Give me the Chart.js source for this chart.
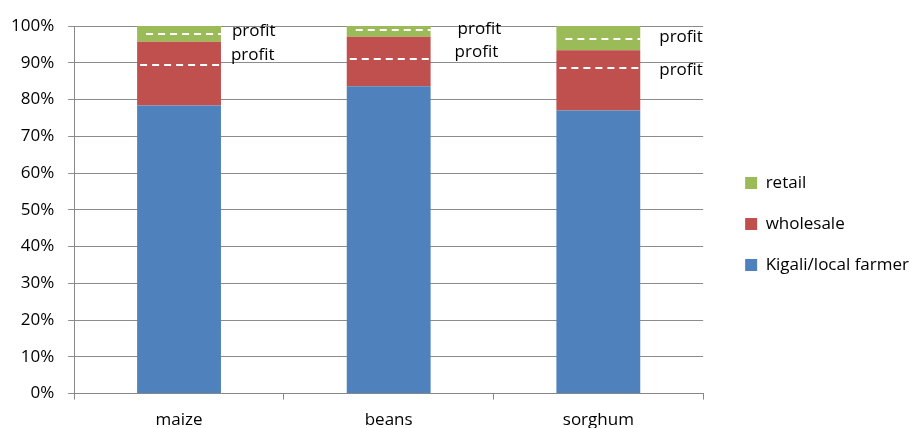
<!DOCTYPE html>
<html>
<head>
<meta charset="utf-8">
<script src="https://cdn.jsdelivr.net/npm/chart.js@4.4.1/dist/chart.umd.min.js"></script>
<style>
  html, body { margin: 0; padding: 0; background: #fff; }
  #wrap { width: 920px; height: 428px; position: relative; }
</style>
</head>
<body>
<div id="wrap"><canvas id="priceChart"></canvas></div>
<script>
// DADOS
const categories = ['maize', 'beans', 'sorghum'];
const farmerShare = [78.4, 83.6, 77.0];
const wholesaleShare = [17.3, 13.5, 16.4];
const retailShare = [4.3, 2.9, 6.6];
// dashed "profit" levels (in % of price)
const wholesaleProfitLevel = [89.5, 91.0, 88.6];
const retailProfitLevel = [97.7, 99.0, 96.4];
// where the "profit" words sit (in %)
const upperLabelLevel = [98.6, 99.2, 97.0];
const lowerLabelLevel = [92.1, 92.9, 88.0];
const yTicks = [0, 10, 20, 30, 40, 50, 60, 70, 80, 90, 100];

const FONT = '"Open Sans", sans-serif';
const FONT_SIZE = 17;

// LINHAS TRACEJADAS + TEXTO "profit"
const profitPlugin = {
    id: 'profitMarks',
    afterDatasetsDraw(chart) {
        const ctx = chart.ctx;
        const y = chart.scales.y;
        const bars = chart.getDatasetMeta(0).data;
        const labelOffsets = [[11, 10], [27, 24], [19, 19]];
        ctx.save();
        bars.forEach((bar, i) => {
            const left = bar.x - bar.width / 2;
            const right = bar.x + bar.width / 2;
            ctx.strokeStyle = '#ffffff';
            ctx.lineWidth = 2;
            ctx.setLineDash([7, 5]);
            [[retailProfitLevel[i], 9], [wholesaleProfitLevel[i], 3]].forEach(([lvl, inset]) => {
                const py = Math.round(y.getPixelForValue(lvl));
                ctx.beginPath();
                ctx.moveTo(left + inset, py);
                ctx.lineTo(right, py);
                ctx.stroke();
            });
            ctx.setLineDash([]);
            ctx.fillStyle = '#000';
            ctx.font = FONT_SIZE + 'px ' + FONT;
            ctx.textBaseline = 'middle';
            ctx.textAlign = 'left';
            ctx.fillText('profit', right + labelOffsets[i][0], y.getPixelForValue(upperLabelLevel[i]));
            ctx.fillText('profit', right + labelOffsets[i][1], y.getPixelForValue(lowerLabelLevel[i]));
        });
        ctx.restore();
    }
};

// EMPURRA A LEGENDA UM POUCO PARA A DIREITA / PARA CIMA
const legendShift = {
    id: 'legendShift',
    afterLayout(chart) {
        chart.legend.left += 18;
        chart.legend.right += 18;
        chart.legend.top -= 9;
        chart.legend.bottom -= 9;
    }
};

const ctx = document.getElementById('priceChart').getContext('2d');
new Chart(ctx, {
    type: 'bar',
    data: {
        labels: categories,
        datasets: [
            { label: 'Kigali/local farmer', data: farmerShare, backgroundColor: '#4F81BD' },
            { label: 'wholesale', data: wholesaleShare, backgroundColor: '#C0504D' },
            { label: 'retail', data: retailShare, backgroundColor: '#9BBB59' }
        ]
    },
    options: {
        responsive: true,
        maintainAspectRatio: false,
        animation: false,
        datasets: { bar: { categoryPercentage: 1, barPercentage: 0.4 } },
        layout: { padding: { top: 26, right: 19, left: -3, bottom: -12 } },
        plugins: {
            legend: {
                position: 'right',
                reverse: true,
                labels: {
                    boxWidth: 12, boxHeight: 12, padding: 24,
                    color: '#000',
                    font: { family: FONT, size: FONT_SIZE }
                }
            },
            tooltip: { enabled: false }
        },
        scales: {
            x: {
                stacked: true,
                grid: { drawOnChartArea: false, drawTicks: true, tickLength: 6, color: '#888' },
                border: { color: '#888' },
                ticks: { color: '#000', padding: 10, font: { family: FONT, size: FONT_SIZE } }
            },
            y: {
                stacked: true,
                min: 0, max: 100,
                afterBuildTicks: axis => { axis.ticks = yTicks.map(v => ({ value: v })); },
                grid: { color: '#8c8c8c', tickLength: 6 },
                border: { color: '#888' },
                ticks: {
                    color: '#000', padding: 14,
                    font: { family: FONT, size: FONT_SIZE },
                    callback: v => v + '%'
                }
            }
        }
    },
    plugins: [profitPlugin, legendShift]
});
</script>
</body>
</html>
